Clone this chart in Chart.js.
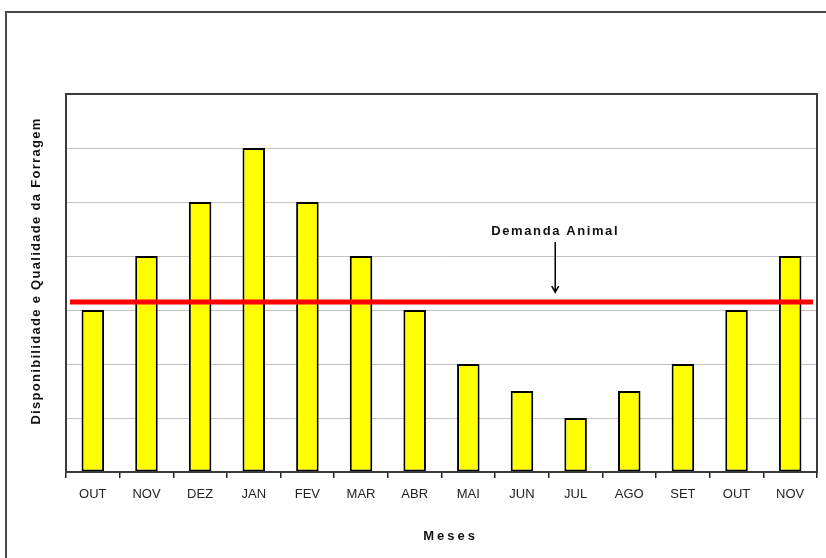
<!DOCTYPE html>
<html>
<head>
<meta charset="utf-8">
<script src="https://cdn.jsdelivr.net/npm/chart.js@4/dist/chart.umd.min.js"></script>
<style>
  html, body { margin: 0; padding: 0; background: #ffffff; }
  #wrap { width: 826px; height: 558px; position: relative; }
</style>
</head>
<body>
<div id="wrap"><canvas id="c" width="826" height="558"></canvas></div>
<script>
// ---- data ----
const months = ['OUT','NOV','DEZ','JAN','FEV','MAR','ABR','MAI','JUN','JUL','AGO','SET','OUT','NOV'];
const forage = [3, 4, 5, 6, 5, 4, 3, 2, 1.5, 1, 1.5, 2, 3, 4];
const demand = 3.15;
const demandLabel = 'Demanda Animal';
const annotX = 8.62;          // category position of the annotation arrow
const annotTextY = 4.46;      // value level of annotation text
const arrowTop = 4.26;
const arrowBottom = 3.33;
const yTitle = 'Disponibilidade e Qualidade da Forragem';
const xTitle = 'Meses';
const yMin = 0, yMax = 7;

const decor = {
  id: 'decor',
  beforeDraw(chart) {
    const ctx = chart.ctx;
    ctx.save();
    ctx.fillStyle = '#ffffff';
    ctx.fillRect(0, 0, chart.width, chart.height);
    // outer frame
    ctx.strokeStyle = '#4a4a4a';
    ctx.lineWidth = 2;
    ctx.strokeRect(6, 12, chart.width + 20, chart.height + 20);
    ctx.restore();
  },
  afterDatasetsDraw(chart) {
    const ctx = chart.ctx;
    const a = chart.chartArea;
    const xs = chart.scales.x, ys = chart.scales.y;
    ctx.save();
    // plot border
    ctx.strokeStyle = '#3a3a3a';
    ctx.lineWidth = 2;
    ctx.strokeRect(a.left, a.top, a.right - a.left, a.bottom - a.top);
    // demand line
    const yd = ys.getPixelForValue(demand);
    ctx.strokeStyle = '#ff0000';
    ctx.lineWidth = 5;
    ctx.beginPath();
    ctx.moveTo(a.left + 4, yd);
    ctx.lineTo(a.right - 4, yd);
    ctx.stroke();
    // annotation
    const step = xs.getPixelForValue(1) - xs.getPixelForValue(0);
    const ax = xs.getPixelForValue(0) + annotX * step;
    const y1 = ys.getPixelForValue(arrowTop), y2 = ys.getPixelForValue(arrowBottom);
    ctx.strokeStyle = '#000';
    ctx.lineWidth = 1.5;
    ctx.beginPath();
    ctx.moveTo(ax, y1); ctx.lineTo(ax, y2);
    ctx.moveTo(ax - 3.5, y2 - 6); ctx.lineTo(ax, y2); ctx.lineTo(ax + 3.5, y2 - 6);
    ctx.stroke();
    ctx.fillStyle = '#111';
    ctx.font = 'bold 13px "Liberation Sans", Arial, sans-serif';
    ctx.letterSpacing = '1.6px';
    ctx.textAlign = 'center';
    ctx.textBaseline = 'middle';
    ctx.fillText(demandLabel, ax, ys.getPixelForValue(annotTextY));
    // x title
    ctx.letterSpacing = '3px';
    ctx.fillText(xTitle, (a.left + a.right) / 2 + 9, 536);
    // y title
    ctx.letterSpacing = '1.3px';
    ctx.translate(36, (a.top + a.bottom) / 2 - 12);
    ctx.rotate(-Math.PI / 2);
    ctx.fillText(yTitle, 0, 0);
    ctx.restore();
  }
};

new Chart(document.getElementById('c'), {
  type: 'bar',
  data: {
    labels: months,
    datasets: [{
      data: forage,
      backgroundColor: '#ffff00',
      borderColor: '#000000',
      borderWidth: 2,
      borderSkipped: false,
      barPercentage: 0.42,
      categoryPercentage: 1.0
    }]
  },
  options: {
    responsive: false,
    animation: false,
    layout: { padding: { top: 94, right: 9, left: 0, bottom: 0 } },
    plugins: { legend: { display: false }, tooltip: { enabled: false } },
    scales: {
      x: {
        grid: { drawOnChartArea: false, drawTicks: true, tickLength: 6, offset: true, color: '#222', lineWidth: 1.5 },
        border: { display: true, color: '#000', width: 2 },
        ticks: { color: '#222', font: { family: '"Liberation Sans", Arial, sans-serif', size: 13 }, padding: 9, maxRotation: 0, autoSkip: false },
        afterFit(s) { s.height = 86; }
      },
      y: {
        min: yMin, max: yMax,
        ticks: { display: false, stepSize: 1 },
        grid: { color: '#c2c2c2', lineWidth: 1, drawTicks: false },
        border: { display: false },
        afterFit(s) { s.width = 66; }
      }
    }
  },
  plugins: [decor]
});
</script>
</body>
</html>
